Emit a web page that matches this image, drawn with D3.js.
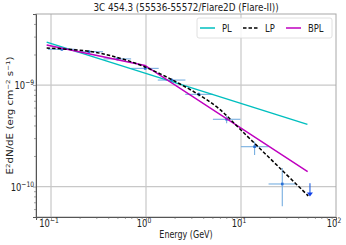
<!DOCTYPE html>
<html>
<head>
<meta charset="utf-8">
<script src="https://cdn.jsdelivr.net/npm/d3@7"></script>
<style>
  body { margin: 0; background: #fff; }
  text { font-family: "DejaVu Sans", sans-serif; fill: #222; }
</style>
</head>
<body>
<div id="chart"></div>
<script>

// binned flux points (GeV, erg cm^-2 s^-1)
var energy = [0.13, 0.25, 0.50, 0.98, 1.86, 3.6, 7.06, 13.9, 27.2];
var eLo = [0.093, 0.181, 0.357, 0.698, 1.33, 2.59, 5.06, 9.98, 19.5];
var eHi = [0.181, 0.353, 0.697, 1.36, 2.60, 5.05, 9.86, 19.5, 38.0];
var flux = [2.25e-9, 2.13e-9, 1.81e-9, 1.46e-9, 1.12e-9, 8.1e-10, 4.6e-10, 2.47e-10, 1.06e-10];
var fluxLo = [2.17e-9, 2.06e-9, 1.75e-9, 1.41e-9, 1.08e-9, 7.7e-10, 4.2e-10, 2.05e-10, 6.4e-11];
var fluxHi = [2.33e-9, 2.20e-9, 1.87e-9, 1.51e-9, 1.16e-9, 8.5e-10, 4.95e-10, 2.77e-10, 1.52e-10];

// upper limit
var ulEnergy = [53.2];
var ulFlux = [1.08e-10];
var ulArrowTo = [8.0e-11];

// model curves
var plE = [0.09, 50];
var plF = [2.65e-9, 4.1e-10];
var lpE = [0.09, 0.26, 0.53, 0.94, 1.94, 3.7, 5.8, 10, 26.8, 51];
var lpF = [2.32e-9, 2.14e-9, 1.84e-9, 1.53e-9, 1.11e-9, 7.9e-10, 5.9e-10, 3.6e-10, 1.46e-10, 8.1e-11];
var bplE = [0.09, 0.975, 50.3];
var bplF = [2.48e-9, 1.56e-9, 1.40e-10];

var legendLabels = ["PL", "LP", "BPL"];
var legendColors = ["#00bfbf", "#000000", "#bf00bf"];
var legendDash = [null, "3.5,2", null];

var xTicks = [0.1, 1, 10, 100];
var xTickExp = ["\u22121", "0", "1", "2"];
var yTicks = [1e-10, 1e-9];
var yTickExp = ["\u221210", "\u22129"];

var width = 346, height = 245;
var margin = {top: 14, right: 10, bottom: 28, left: 36};
var sx = 0.8; // glyphs in the reference are narrow

var svg = d3.select("#chart").append("svg")
  .attr("width", width)
  .attr("height", height);

var x = d3.scaleLog()
  .domain([Math.pow(10, -1.158), 100])
  .range([margin.left, width - margin.right]);

var y = d3.scaleLog()
  .domain([Math.pow(10, -10.30), Math.pow(10, -8.30)])
  .range([height - margin.bottom, margin.top]);

function addText(x0, y0, anchor, size) {
  return svg.append("text")
    .attr("transform", "translate(" + x0 + "," + y0 + ") scale(" + sx + ",1)")
    .attr("text-anchor", anchor)
    .style("font-size", size + "px");
}

// grid
svg.append("g").selectAll("line").data(xTicks.slice(0, 3))
  .enter().append("line")
  .attr("x1", function(d) { return x(d); })
  .attr("x2", function(d) { return x(d); })
  .attr("y1", margin.top)
  .attr("y2", height - margin.bottom)
  .attr("stroke", "#c8c8c8")
  .attr("stroke-width", 1.2);

svg.append("g").selectAll("line").data(yTicks)
  .enter().append("line")
  .attr("x1", margin.left)
  .attr("x2", width - margin.right)
  .attr("y1", function(d) { return y(d); })
  .attr("y2", function(d) { return y(d); })
  .attr("stroke", "#c8c8c8")
  .attr("stroke-width", 1.2);

// frame
svg.append("rect")
  .attr("x", margin.left)
  .attr("y", margin.top)
  .attr("width", width - margin.left - margin.right)
  .attr("height", height - margin.top - margin.bottom)
  .attr("fill", "none")
  .attr("stroke", "#a8a8a8")
  .attr("stroke-width", 1);

// axes
var xAxis = d3.axisBottom(x).tickSize(3).tickFormat("");
var gx = svg.append("g")
  .attr("transform", "translate(0," + (height - margin.bottom) + ")")
  .call(xAxis);
var yAxis = d3.axisLeft(y).tickSize(3).tickFormat("");
var gy = svg.append("g")
  .attr("transform", "translate(" + margin.left + ",0)")
  .call(yAxis);

[gx, gy].forEach(function(g) {
  g.select(".domain").attr("stroke", "#555");
  g.selectAll(".tick line").attr("stroke", "#666").attr("stroke-width", 0.6)
    .each(function(d) {
      var major = Math.abs(Math.log10(d) - Math.round(Math.log10(d))) < 1e-6;
      if (!major) d3.select(this).attr(g === gx ? "y2" : "x2", g === gx ? 2 : -2);
    });
});

// tick labels
xTicks.forEach(function(t, i) {
  var tx = addText(x(t) - 2, height - margin.bottom + 10, "middle", 10.5);
  tx.append("tspan").text("10");
  tx.append("tspan").attr("dy", -4).style("font-size", "7.5px").text(xTickExp[i]);
});
yTicks.forEach(function(t, i) {
  var ty = addText(margin.left - 2, y(t) + 4, "end", 10.5);
  ty.append("tspan").text("10");
  ty.append("tspan").attr("dy", -4).style("font-size", "7.5px").text(yTickExp[i]);
});

// title and labels
addText((margin.left + width - margin.right) / 2, 11, "middle", 11)
  .text("3C 454.3 (55536-55572/Flare2D (Flare-II))");

addText((margin.left + width - margin.right) / 2, 238, "middle", 10)
  .text("Energy (GeV)");

var yl = svg.append("text")
  .attr("transform", "translate(13," + ((margin.top + height - margin.bottom) / 2) + ") scale(" + sx + ",1) rotate(-90)")
  .attr("text-anchor", "middle")
  .style("font-size", "10.3px");
yl.append("tspan").text("E");
yl.append("tspan").attr("dy", -4).style("font-size", "7px").text("2");
yl.append("tspan").attr("dy", 4).text("dN/dE (erg cm");
yl.append("tspan").attr("dy", -4).style("font-size", "7px").text("\u22122");
yl.append("tspan").attr("dy", 4).text(" s");
yl.append("tspan").attr("dy", -4).style("font-size", "7px").text("\u22121");
yl.append("tspan").attr("dy", 4).text(")");

// error bars
var pts = energy.map(function(e, i) {
  return {e: e, lo: eLo[i], hi: eHi[i], f: flux[i], flo: fluxLo[i], fhi: fluxHi[i]};
});
var gp = svg.append("g");
pts.forEach(function(p) {
  gp.append("line")
    .attr("x1", x(p.lo)).attr("x2", x(p.hi))
    .attr("y1", y(p.f)).attr("y2", y(p.f))
    .attr("stroke", "#76aee0").attr("stroke-width", 1.1);
  gp.append("line")
    .attr("x1", x(p.e)).attr("x2", x(p.e))
    .attr("y1", y(p.flo)).attr("y2", y(p.fhi))
    .attr("stroke", "#76aee0").attr("stroke-width", 1.1);
  gp.append("rect")
    .attr("x", x(p.e) - 1.3).attr("y", y(p.f) - 1.3)
    .attr("width", 2.6).attr("height", 2.6)
    .attr("fill", "#2a6fd6");
});

// model lines
var line = d3.line()
  .x(function(d) { return x(d[0]); })
  .y(function(d) { return y(d[1]); });

function drawModel(es, fs, color, dash, curve) {
  svg.append("path")
    .datum(es.map(function(e, i) { return [e, fs[i]]; }))
    .attr("d", line.curve(curve))
    .attr("fill", "none")
    .attr("stroke", color)
    .attr("stroke-width", 1.5)
    .attr("stroke-dasharray", dash);
}
drawModel(plE, plF, legendColors[0], null, d3.curveLinear);
drawModel(bplE, bplF, legendColors[2], null, d3.curveLinear);
drawModel(lpE, lpF, legendColors[1], legendDash[1], d3.curveCatmullRom);

// upper limit
ulEnergy.forEach(function(e, i) {
  svg.append("line")
    .attr("x1", x(e)).attr("x2", x(e))
    .attr("y1", y(ulFlux[i])).attr("y2", y(ulArrowTo[i]) - 3)
    .attr("stroke", "#1f5fe0").attr("stroke-width", 1.1);
  var tipY = y(ulArrowTo[i]);
  svg.append("path")
    .attr("d", "M" + (x(e) - 3) + "," + (tipY - 4) + "L" + (x(e) + 3) + "," + (tipY - 4) + "L" + x(e) + "," + tipY + "Z")
    .attr("fill", "#1040e8");
});

// legend
var lg = svg.append("g");
lg.append("rect")
  .attr("x", 197).attr("y", 18)
  .attr("width", 135).attr("height", 20)
  .attr("rx", 2)
  .attr("fill", "#fff")
  .attr("fill-opacity", 0.85)
  .attr("stroke", "#d8d8d8")
  .attr("stroke-width", 0.8);

legendLabels.forEach(function(lab, i) {
  var lx = 200 + i * 43;
  lg.append("line")
    .attr("x1", lx).attr("x2", lx + 15)
    .attr("y1", 28).attr("y2", 28)
    .attr("stroke", legendColors[i])
    .attr("stroke-width", 1.5)
    .attr("stroke-dasharray", legendDash[i]);
  lg.append("text")
    .attr("transform", "translate(" + (lx + 22) + ",32) scale(" + sx + ",1)")
    .style("font-size", "10.5px")
    .text(lab);
});

</script>
</body>
</html>
